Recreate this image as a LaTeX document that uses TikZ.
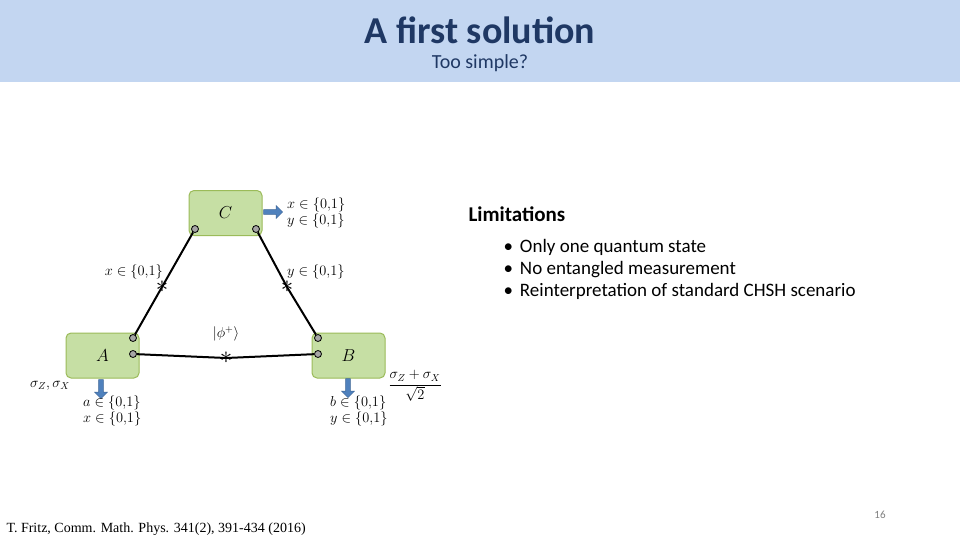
\documentclass[tikz,border=0pt]{standalone}
\usepackage{fontspec}
\setmainfont{Carlito}
\newfontfamily\serifit{Liberation Serif}
\usetikzlibrary{arrows.meta,shapes.arrows}
\definecolor{band}{HTML}{C3D6F1}
\definecolor{ttl}{HTML}{1F3864}
\definecolor{boxf}{HTML}{C6DFA4}
\definecolor{boxd}{HTML}{9BBB59}
\definecolor{arr}{HTML}{4F81BD}
\begin{document}
\begin{tikzpicture}[x=1pt,y=-1pt,
  party/.style={draw=boxd,line width=1pt,fill=boxf,rounded corners=5pt,minimum width=73pt,minimum height=45pt,font=\fontsize{19}{19}\selectfont},
  port/.style={circle,draw=black,fill=gray!70,inner sep=0pt,minimum size=7pt,line width=0.8pt},
  star/.style={inner sep=0pt,font=\fontsize{24}{24}\selectfont},
  wire/.style={line width=2pt},
  lab/.style={font=\fontsize{14}{14}\selectfont,inner sep=0pt},
  blk/.style={single arrow,fill=arr,draw=arr!80!black,minimum height=19pt,minimum width=13pt,single arrow head extend=3pt,inner sep=1.5pt}]
\useasboundingbox (0,0) rectangle (960,540);
\fill[white] (0,0) rectangle (960,540);
\fill[band] (0,0) rectangle (960,82);
\node[text=ttl,font=\bfseries\fontsize{38}{38}\selectfont] (title) at (480,30) {A first solution};
\node[text=ttl,font=\fontsize{20}{20}\selectfont] (sub) at (480,63) {Too simple?};
\node[party] (C) at (225.5,213) {$C$};
\node[party] (A) at (102.5,355.5) {$A$};
\node[party] (B) at (348.5,355.5) {$B$};
\node[port] (c1) at (195,229) {};
\node[port] (c2) at (256,229) {};
\node[port] (a1) at (133,338) {};
\node[port] (a2) at (133,354) {};
\node[port] (b1) at (318,338) {};
\node[port] (b2) at (318,354) {};
\node[star] (s1) at (162,287) {$*$};
\node[star] (s2) at (287,287) {$*$};
\node[star] (s3) at (226,358) {$*$};
\draw[wire] (c1) -- (s1.center) -- (a1);
\draw[wire] (c2) -- (s2.center) -- (b1);
\draw[wire] (a2) -- (s3.center) -- (b2);
\node[lab,anchor=east] (lx) at (163,272) {$x\in\{0{,}1\}$};
\node[lab,anchor=west] (ly) at (287,272) {$y\in\{0{,}1\}$};
\node[lab] (phi) at (226,334) {$|\phi^{+}\rangle$};
\node[blk] (ac) at (272,212) {};
\node[blk,rotate=-90] (aa) at (101,388) {};
\node[blk,rotate=-90] (ab) at (348,387) {};
\node[lab,anchor=west,align=left] (cl) at (287,213) {$x\in\{0{,}1\}$\\[1pt]$y\in\{0{,}1\}$};
\node[lab,anchor=north west,align=left] (al) at (83,395) {$a\in\{0{,}1\}$\\[1pt]$x\in\{0{,}1\}$};
\node[lab,anchor=north west,align=left] (bl) at (330,395) {$b\in\{0{,}1\}$\\[1pt]$y\in\{0{,}1\}$};
\node[lab] (sa) at (50,386) {$\sigma_Z,\sigma_X$};
\node[lab] (sb) at (415,386) {$\displaystyle\frac{\sigma_Z+\sigma_X}{\sqrt{2}}$};
\node[anchor=west,font=\bfseries\fontsize{21}{21}\selectfont] (lim) at (465,214) {Limitations};
\node[anchor=west,font=\fontsize{19}{19}\selectfont,align=left] (bul) at (500,269) {\textbullet\hspace{7pt}Only one quantum state\\[3pt]\textbullet\hspace{7pt}No entangled measurement\\[3pt]\textbullet\hspace{7pt}Reinterpretation of standard CHSH scenario};
\node[text=gray,font=\fontsize{11}{11}\selectfont] (pg) at (880,515) {16};
\node[anchor=west,font=\serifit\fontsize{14}{14}\selectfont] (ref) at (3,529) {T. Fritz, Comm. Math. Phys. 341(2), 391-434 (2016)};
\end{tikzpicture}
\end{document}
